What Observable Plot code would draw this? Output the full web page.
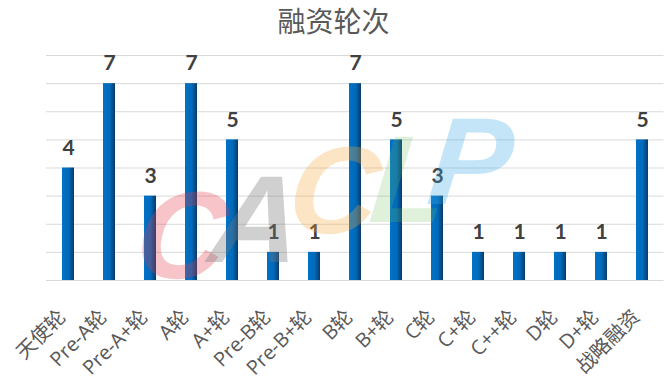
<!DOCTYPE html>
<html><head><meta charset="utf-8">
<script src="https://cdn.jsdelivr.net/npm/d3@7"></script>
<script src="https://cdn.jsdelivr.net/npm/@observablehq/plot@0.6"></script>
<style>
body{margin:0;background:#fff;width:667px;height:391px;overflow:hidden;position:relative;}
#title{height:44px;line-height:41px;text-align:center;font-family:"Noto Sans CJK SC",sans-serif;font-size:28px;color:#595959;}
#wm{position:absolute;left:0;top:0;pointer-events:none;}
#wm text{font-family:"Liberation Sans",sans-serif;font-weight:bold;font-style:italic;font-size:124px;}
</style></head>
<body>
<div id="title">融资轮次</div>
<div id="chart"></div>
<svg id="wm" width="667" height="391">
  <text x="138" y="278" fill="rgb(225,60,75)" fill-opacity="0.3" transform="skewX(-6)" transform-origin="175 230">C</text>
  <text x="212" y="262" fill="rgb(120,120,120)" fill-opacity="0.35" transform="skewX(-6)" transform-origin="250 215">A</text>
  <text x="290" y="233" fill="rgb(245,170,60)" fill-opacity="0.3" transform="skewX(-6)" transform-origin="330 190">C</text>
  <text x="372" y="222" fill="rgb(110,190,90)" fill-opacity="0.22" transform="skewX(-6)" transform-origin="400 180">L</text>
  <text x="430" y="204" fill="rgb(60,170,230)" fill-opacity="0.3" transform="skewX(-6)" transform-origin="465 160">P</text>
</svg>
<script>
const rounds = ["天使轮","Pre-A轮","Pre-A+轮","A轮","A+轮","Pre-B轮","Pre-B+轮","B轮","B+轮","C轮","C+轮","C++轮","D轮","D+轮","战略融资"];
const counts = [4,7,3,7,5,1,1,7,5,3,1,1,1,1,5];
const yTicks = [0,1,2,3,4,5,6,7,8];
const data = rounds.map((r,i)=>({round:r,count:counts[i]}));

const chart = Plot.plot({
  width: 667,
  height: 347,
  marginTop: 11,
  marginBottom: 111,
  marginLeft: 46,
  marginRight: 3.5,
  style: {fontFamily: '"Open Sans","Noto Sans CJK SC",sans-serif', background: "transparent"},
  x: {domain: rounds, paddingInner: 0.708, paddingOuter: 0.354, label: null, axis: null},
  y: {domain: [0, 8], axis: null},
  marks: [
    () => {
      const ns = "http://www.w3.org/2000/svg";
      const defs = document.createElementNS(ns, "defs");
      defs.innerHTML = `<linearGradient id="barGrad" x1="0" x2="1" y1="0" y2="0">
        <stop offset="0" stop-color="#0072c6"/>
        <stop offset="0.55" stop-color="#006abb"/>
        <stop offset="1" stop-color="#0b3a68"/></linearGradient>`;
      return defs;
    },
    Plot.ruleY(yTicks, {stroke: "#d9d9d9", strokeWidth: 1}),
    Plot.barY(data, {x: "round", y: "count", fill: "url(#barGrad)"}),
    Plot.text(data, {x: "round", y: "count", text: d => String(d.count), dy: -20, fontSize: 21, fontWeight: "bold", fill: "#404040", fontFamily: "Lato, sans-serif"}),
    Plot.text(data, {x: "round", frameAnchor: "bottom", text: "round", dx: -1.5, dy: 37.5, rotate: -45, textAnchor: "end", fontSize: 20, fill: "#595959"})
  ]
});
document.getElementById("chart").appendChild(chart);
</script>
</body></html>
